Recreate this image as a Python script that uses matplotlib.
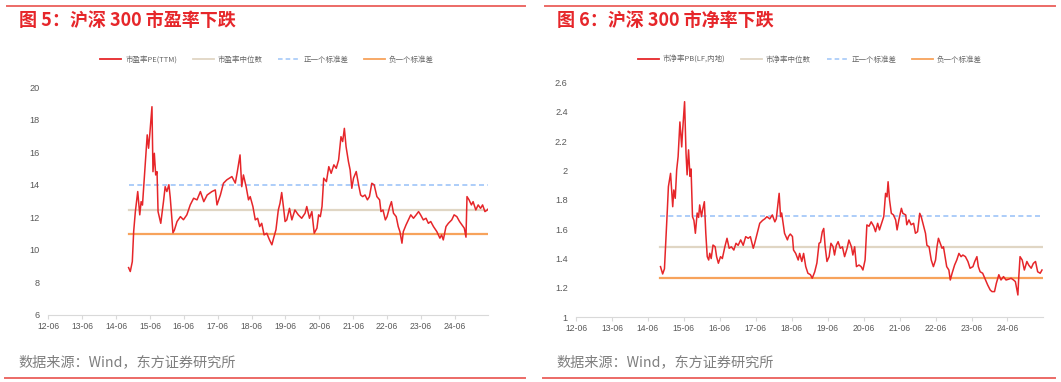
import matplotlib
matplotlib.use("Agg")
import matplotlib.pyplot as plt
from matplotlib.lines import Line2D
from matplotlib.ticker import FuncFormatter

plt.rcParams['font.family'] = ['Noto Sans CJK SC', 'DejaVu Sans']

# ---- data (fractional year, value) ----
pe_t = [2014.79, 2014.84, 2014.90, 2014.94, 2014.99, 2015.06, 2015.12, 2015.16, 2015.20, 2015.24,
        2015.34, 2015.38, 2015.42, 2015.48, 2015.51, 2015.55, 2015.59, 2015.63, 2015.66, 2015.74,
        2015.82, 2015.87, 2015.92, 2015.98, 2016.02, 2016.10, 2016.14, 2016.22, 2016.32, 2016.41,
        2016.51, 2016.61, 2016.71, 2016.81, 2016.91, 2017.01, 2017.11, 2017.25, 2017.35, 2017.40,
        2017.50, 2017.59, 2017.69, 2017.84, 2017.94, 2018.00, 2018.08, 2018.13, 2018.18, 2018.26,
        2018.33, 2018.38, 2018.46, 2018.53, 2018.60, 2018.66, 2018.72, 2018.79, 2018.87, 2018.95,
        2019.02, 2019.07, 2019.14, 2019.21, 2019.26, 2019.31, 2019.36, 2019.41, 2019.46, 2019.54,
        2019.61, 2019.70, 2019.80, 2019.90, 2020.00, 2020.05, 2020.13, 2020.20, 2020.27, 2020.35,
        2020.40, 2020.45, 2020.50, 2020.55, 2020.63, 2020.70, 2020.77, 2020.85, 2020.92, 2020.99,
        2021.06, 2021.11, 2021.16, 2021.21, 2021.28, 2021.33, 2021.38, 2021.43, 2021.51, 2021.58,
        2021.64, 2021.70, 2021.77, 2021.84, 2021.90, 2021.97, 2022.04, 2022.12, 2022.20, 2022.24,
        2022.30, 2022.37, 2022.42, 2022.50, 2022.55, 2022.61, 2022.69, 2022.75, 2022.80, 2022.86,
        2022.90, 2022.98, 2023.05, 2023.12, 2023.20, 2023.28, 2023.35, 2023.41, 2023.49, 2023.57,
        2023.64, 2023.71, 2023.79, 2023.89, 2023.98, 2024.03, 2024.08, 2024.16, 2024.23, 2024.33,
        2024.40, 2024.48, 2024.56, 2024.63, 2024.70, 2024.75, 2024.78, 2024.84, 2024.91, 2024.96,
        2025.04, 2025.11, 2025.18, 2025.24, 2025.31, 2025.38, 2025.42]
pe_v = [8.91, 8.67, 9.28, 11.12, 12.35, 13.58, 12.15, 12.96, 12.75, 13.99,
        17.06, 16.24, 17.20, 18.79, 14.80, 15.93, 14.60, 14.80, 12.35, 11.63,
        12.96, 13.88, 13.58, 14.00, 13.20, 11.05, 11.20, 11.74, 12.04, 11.85,
        12.15, 12.76, 13.17, 13.07, 13.58, 12.96, 13.37, 13.58, 13.68, 12.76,
        13.37, 14.09, 14.30, 14.50, 14.10, 14.80, 15.83, 13.88, 14.60, 13.88,
        13.07, 13.27, 12.66, 11.84, 11.94, 11.43, 11.63, 10.92, 11.02, 10.61,
        10.31, 10.71, 11.23, 12.45, 12.86, 13.52, 12.66, 11.74, 11.84, 12.55,
        11.84, 12.45, 12.15, 11.94, 12.25, 12.66, 11.94, 12.35, 11.02, 11.33,
        12.15, 12.04, 12.66, 14.40, 14.19, 15.11, 14.70, 15.22, 15.01, 15.52,
        16.95, 16.65, 17.46, 16.34, 15.42, 14.91, 13.78, 14.40, 14.81, 13.99,
        13.37, 13.27, 13.37, 13.07, 13.27, 14.09, 13.99, 13.27, 13.07, 12.35,
        12.45, 11.84, 12.04, 12.66, 12.96, 12.25, 12.04, 11.43, 11.12, 10.41,
        11.12, 11.53, 11.84, 12.15, 11.94, 12.15, 12.35, 12.15, 11.84, 11.94,
        11.63, 11.74, 11.43, 11.12, 10.72, 10.92, 10.61, 11.43, 11.63, 11.84,
        12.15, 12.04, 11.74, 11.53, 11.33, 10.78, 13.27, 13.07, 12.76, 12.96,
        12.45, 12.76, 12.55, 12.76, 12.35, 12.45, 12.55]
pe_median = 12.45
pe_plus_std = 14.0
pe_minus_std = 10.95

pb_t = [2014.77, 2014.83, 2014.88, 2014.92, 2014.96, 2014.99, 2015.05, 2015.11, 2015.14, 2015.18,
        2015.22, 2015.26, 2015.31, 2015.36, 2015.38, 2015.44, 2015.48, 2015.51, 2015.55, 2015.59,
        2015.62, 2015.66, 2015.70, 2015.74, 2015.79, 2015.83, 2015.86, 2015.91, 2015.94, 2015.99,
        2016.03, 2016.07, 2016.11, 2016.14, 2016.18, 2016.23, 2016.29, 2016.33, 2016.38, 2016.44,
        2016.49, 2016.56, 2016.62, 2016.68, 2016.74, 2016.81, 2016.87, 2016.93, 2017.00, 2017.07,
        2017.14, 2017.21, 2017.27, 2017.35, 2017.39, 2017.46, 2017.53, 2017.61, 2017.67, 2017.73,
        2017.81, 2017.88, 2017.95, 2017.99, 2018.04, 2018.07, 2018.11, 2018.14, 2018.22, 2018.30,
        2018.33, 2018.38, 2018.44, 2018.47, 2018.53, 2018.60, 2018.64, 2018.70, 2018.75, 2018.81,
        2018.87, 2018.94, 2018.99, 2019.06, 2019.12, 2019.18, 2019.22, 2019.27, 2019.31, 2019.35,
        2019.40, 2019.46, 2019.51, 2019.57, 2019.61, 2019.66, 2019.71, 2019.77, 2019.83, 2019.89,
        2019.96, 2020.01, 2020.08, 2020.12, 2020.17, 2020.22, 2020.29, 2020.35, 2020.40, 2020.46,
        2020.51, 2020.57, 2020.63, 2020.70, 2020.75, 2020.81, 2020.86, 2020.92, 2020.98, 2021.03,
        2021.07, 2021.10, 2021.14, 2021.19, 2021.25, 2021.31, 2021.35, 2021.40, 2021.47, 2021.51,
        2021.59, 2021.62, 2021.68, 2021.74, 2021.81, 2021.86, 2021.92, 2021.98, 2022.02, 2022.09,
        2022.14, 2022.18, 2022.24, 2022.30, 2022.36, 2022.42, 2022.46, 2022.50, 2022.55, 2022.60,
        2022.64, 2022.70, 2022.73, 2022.79, 2022.83, 2022.88, 2022.95, 2023.01, 2023.07, 2023.13,
        2023.18, 2023.25, 2023.32, 2023.38, 2023.46, 2023.51, 2023.57, 2023.61, 2023.66, 2023.73,
        2023.81, 2023.87, 2023.94, 2023.99, 2024.06, 2024.11, 2024.18, 2024.24, 2024.31, 2024.38,
        2024.46, 2024.52, 2024.59, 2024.64, 2024.71, 2024.73, 2024.77, 2024.83, 2024.89, 2024.96,
        2025.01, 2025.08, 2025.14, 2025.20, 2025.26, 2025.33, 2025.38]
pb_v = [1.345, 1.295, 1.33, 1.527, 1.73, 1.89, 1.98, 1.753, 1.867, 1.81,
        2.003, 2.094, 2.33, 2.16, 2.25, 2.468, 2.117, 1.97, 2.14, 1.96,
        2.01, 1.685, 1.66, 1.572, 1.71, 1.68, 1.765, 1.685, 1.73, 1.787,
        1.572, 1.413, 1.39, 1.436, 1.40, 1.492, 1.48, 1.413, 1.368, 1.413,
        1.40, 1.48, 1.538, 1.47, 1.48, 1.458, 1.504, 1.49, 1.527, 1.49,
        1.549, 1.538, 1.549, 1.47, 1.504, 1.572, 1.64, 1.66, 1.67, 1.685,
        1.67, 1.697, 1.65, 1.67, 1.775, 1.844, 1.685, 1.71, 1.572, 1.527,
        1.55, 1.567, 1.55, 1.458, 1.435, 1.39, 1.435, 1.38, 1.435, 1.345,
        1.30, 1.29, 1.266, 1.31, 1.37, 1.504, 1.51, 1.583, 1.605, 1.48,
        1.38, 1.413, 1.504, 1.48, 1.424, 1.49, 1.515, 1.47, 1.48, 1.413,
        1.47, 1.526, 1.48, 1.424, 1.48, 1.345, 1.356, 1.345, 1.322, 1.39,
        1.629, 1.62, 1.65, 1.62, 1.583, 1.64, 1.595, 1.64, 1.686, 1.844,
        1.82, 1.923, 1.80, 1.708, 1.697, 1.663, 1.595, 1.663, 1.742, 1.708,
        1.697, 1.63, 1.663, 1.63, 1.64, 1.572, 1.583, 1.708, 1.686, 1.62,
        1.572, 1.49, 1.48, 1.39, 1.345, 1.39, 1.48, 1.538, 1.504, 1.47,
        1.48, 1.39, 1.345, 1.322, 1.254, 1.30, 1.356, 1.39, 1.435, 1.413,
        1.424, 1.413, 1.38, 1.334, 1.345, 1.38, 1.413, 1.345, 1.31, 1.30,
        1.254, 1.22, 1.186, 1.175, 1.175, 1.231, 1.29, 1.254, 1.277, 1.254,
        1.26, 1.266, 1.254, 1.243, 1.152, 1.254, 1.413, 1.39, 1.322, 1.38,
        1.356, 1.334, 1.367, 1.38, 1.31, 1.30, 1.322]
pb_median = 1.48
pb_plus_std = 1.69
pb_minus_std = 1.27

tick_years = list(range(2012, 2025))
tick_labels = [f"{y % 100:02d}-06" for y in tick_years]

RED = '#E6262A'
BEIGE = '#E0D6C4'
BLUE = '#9EC5F8'
ORANGE = '#F7A35C'
GRAY = '#7F7F7F'

W, H = 1061, 382
fig = plt.figure(figsize=(W / 100, H / 100), dpi=100)


def fx(px):
    return px / W


def fy(py):
    return 1 - py / H


def draw_panel(rect, t, v, med, plus, minus, ylim, yticks, names, title, legend_x, x0):
    ax = fig.add_axes(rect)
    ax.plot(t, v, color=RED, lw=1.1, zorder=4)
    span = [t[0], t[-1]]
    ax.plot(span, [med, med], color=BEIGE, lw=1.6, zorder=2)
    ax.plot(span, [plus, plus], color=BLUE, lw=1.2, ls=(0, (3, 2)), zorder=2)
    ax.plot(span, [minus, minus], color=ORANGE, lw=1.6, zorder=2)
    ax.set_xlim(2012.42, 2025.40)
    ax.set_ylim(*ylim)
    ax.set_yticks(yticks)
    ax.yaxis.set_major_formatter(FuncFormatter(lambda val, pos: f"{val:g}"))
    ax.set_xticks([y + 0.42 for y in tick_years])
    ax.set_xticklabels(tick_labels)
    for s in ['top', 'right', 'left']:
        ax.spines[s].set_visible(False)
    ax.spines['bottom'].set_color('#D9D9D9')
    ax.tick_params(axis='y', length=0, labelsize=6.6, labelcolor='#595959', pad=6)
    ax.tick_params(axis='x', length=3, color='#D9D9D9', labelsize=6.2,
                   labelcolor='#595959', pad=2)
    for lab in ax.get_xticklabels() + ax.get_yticklabels():
        lab.set_family(['Liberation Sans Narrow', 'Liberation Sans', 'DejaVu Sans'])

    handles = [Line2D([], [], color=RED, lw=1.3),
               Line2D([], [], color=BEIGE, lw=1.3),
               Line2D([], [], color=BLUE, lw=1.1, ls=(0, (3, 2))),
               Line2D([], [], color=ORANGE, lw=1.3)]
    leg = ax.legend(handles, names, loc='center', ncol=4, frameon=False,
                    bbox_to_anchor=(legend_x, fy(60)), bbox_transform=fig.transFigure,
                    prop={'size': 5.4}, handlelength=2.8, handletextpad=0.5,
                    columnspacing=2.1)
    for txt in leg.get_texts():
        txt.set_color('#666666')

    fig.text(fx(x0 + 12), fy(20), title, color=RED, fontsize=13, fontweight='bold',
             ha='left', va='center')
    fig.text(fx(x0 + 11), fy(362), '数据来源：Wind，东方证券研究所', color=GRAY,
             fontsize=10.2, ha='left', va='center')
    return ax


draw_panel([fx(48.3), fy(315), fx(488 - 48.3), fy(87) - fy(315)],
           pe_t, pe_v, pe_median, pe_plus_std, pe_minus_std,
           (6, 20), list(range(6, 21, 2)),
           ['市盈率PE(TTM)', '市盈率中位数', '正一个标准差', '负一个标准差'],
           '图 5：沪深 300 市盈率下跌', fx(267), 7)

draw_panel([fx(576), fy(317.3), fx(1042.7 - 576), fy(82.3) - fy(317.3)],
           pb_t, pb_v, pb_median, pb_plus_std, pb_minus_std,
           (1, 2.6), [1, 1.2, 1.4, 1.6, 1.8, 2, 2.2, 2.4, 2.6],
           ['市净率PB(LF,内地)', '市净率中位数', '正一个标准差', '负一个标准差'],
           '图 6：沪深 300 市净率下跌', fx(810), 545)

# separator lines at top and bottom of each panel
for xa, xb in [(7, 525), (545, 1055)]:
    fig.add_artist(Line2D([fx(xa), fx(xb)], [fy(5.5), fy(5.5)], color='#EC6A66', lw=1.4))
    fig.add_artist(Line2D([fx(xa - 2), fx(xb)], [fy(378), fy(378)], color='#EC6A66', lw=1.4))

fig.savefig('out.png', dpi=100)
